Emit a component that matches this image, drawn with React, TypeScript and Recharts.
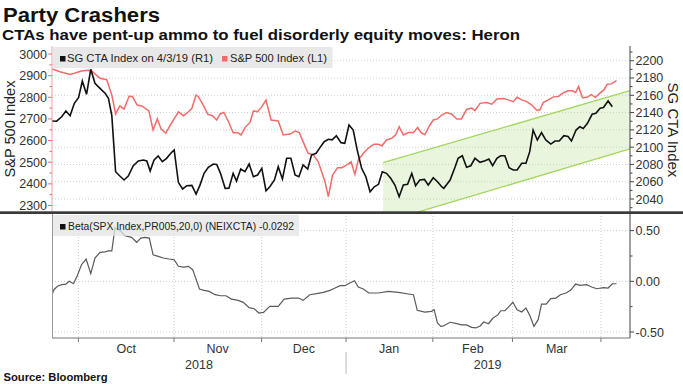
import React from 'react';
import { ComposedChart, Line, Area, XAxis, YAxis, CartesianGrid } from 'recharts';

// x values are trading-day indices counted from the first observation (Sep 2018)
const monthStarts = [6.27, 28.96, 49.75, 69.8, 90.4, 109.3, 130.3];
const monthMids = [17.6, 39.3, 59.8, 80.0, 99.9, 119.8];
const monthLabels = ['Oct', 'Nov', 'Dec', 'Jan', 'Feb', 'Mar'];
const yearMids = [34.9, 103.4];
const yearLabels = ['2018', '2019'];
const yearBreak = 69.8;
const xDomain = [0, 137.2];

const spxTicks = [2300, 2350, 2400, 2450, 2500, 2550, 2600, 2650, 2700, 2750, 2800, 2850, 2900, 2950, 3000];
const ctaTicks = [2030, 2040, 2050, 2060, 2070, 2080, 2090, 2100, 2110, 2120, 2130, 2140, 2150, 2160, 2170, 2180, 2190, 2200, 2210];
const ctaGrid = [2040, 2060, 2080, 2100, 2120, 2140, 2160, 2180, 2200];
const betaTicks = [-0.5, -0.25, 0, 0.25, 0.5];
const betaGrid = [-0.5, 0, 0.5];

// S&P 500 Index (left axis)
const spxSeries: [number, number][] = [
  [0, 2931], [1.9, 2918], [4.3, 2906], [5.5, 2912], [7.0, 2921], [8.6, 2925], [9.4, 2922], [11.4, 2888],
  [13.0, 2881], [14.2, 2810], [15.1, 2723], [16.1, 2760], [17.1, 2746], [18.3, 2805], [19.1, 2804],
  [20.2, 2764], [21.3, 2760], [23.0, 2737], [24.0, 2649], [25.0, 2700], [25.9, 2653], [27.0, 2635],
  [28.2, 2675], [30.0, 2733], [31.2, 2715], [32.4, 2733], [33.2, 2749], [34.2, 2810], [34.7, 2804],
  [35.9, 2764], [37.0, 2721], [38.1, 2715], [39.1, 2695], [39.9, 2723], [40.8, 2730], [41.9, 2687],
  [43.0, 2636], [44.0, 2637], [44.9, 2626], [45.8, 2660], [47.0, 2684], [47.8, 2737], [48.8, 2733],
  [49.8, 2757], [50.8, 2787], [52.0, 2695], [53.7, 2691], [54.9, 2626], [56.5, 2630], [57.7, 2644],
  [58.7, 2637], [59.6, 2595], [60.8, 2541], [62.0, 2535], [63.2, 2502], [64.8, 2410], [65.6, 2341],
  [66.6, 2441], [67.8, 2475], [68.8, 2475], [69.9, 2487], [71.0, 2502], [71.9, 2444], [72.7, 2510],
  [73.9, 2541], [75.2, 2567], [76.4, 2583], [77.5, 2583], [78.3, 2576], [79.4, 2603], [80.6, 2610],
  [81.6, 2627], [82.4, 2664], [83.4, 2626], [84.6, 2637], [85.8, 2637], [86.8, 2660], [87.6, 2637],
  [88.5, 2627], [89.7, 2672], [90.5, 2695], [91.5, 2700], [92.5, 2718], [93.7, 2730], [94.9, 2722],
  [96.1, 2700], [97.2, 2700], [98.4, 2744], [99.6, 2750], [100.4, 2738], [101.6, 2772], [103.2, 2776],
  [104.4, 2768], [105.6, 2792], [107.1, 2794], [108.3, 2788], [109.5, 2780], [110.4, 2800], [111.5, 2788],
  [112.7, 2780], [113.9, 2764], [115.0, 2741], [115.8, 2741], [116.6, 2776], [117.8, 2788], [119.0, 2802],
  [120.2, 2804], [121.4, 2821], [122.5, 2830], [123.5, 2830], [124.3, 2822], [125.0, 2850], [125.9, 2798],
  [127.0, 2800], [128.0, 2812], [129.0, 2800], [130.0, 2818], [131.0, 2834], [131.8, 2860], [132.8, 2862],
  [134.0, 2877],
];

// SG CTA Index (right axis)
const ctaSeries: [number, number][] = [
  [0, 2130.2], [1.1, 2130], [2.3, 2135.2], [3.3, 2141.8], [4.3, 2136.4], [5.3, 2150.7], [6.3, 2157.2],
  [7.2, 2176.5], [8.2, 2161.1], [9.2, 2190], [10.2, 2173.9], [11.4, 2168], [12.6, 2162.3], [13.4, 2156.5],
  [14.2, 2136.4], [15.1, 2071.6], [16.1, 2066.6], [17.1, 2062], [18.1, 2066.6], [19.3, 2078.5], [20.5, 2084],
  [21.7, 2085.1], [22.5, 2084], [23.3, 2072.4], [24.2, 2085], [25.2, 2089.8], [26.2, 2083.2], [27.2, 2087.1],
  [28.2, 2092.9], [29.0, 2096.7], [30.0, 2059.3], [31.0, 2051.6], [32.0, 2055.4], [33.2, 2055.8],
  [34.2, 2045.8], [35.1, 2055.8], [36.1, 2069.7], [37.1, 2076.7], [38.3, 2080.5], [39.1, 2080],
  [40.0, 2069.7], [41.1, 2052.4], [42.0, 2052.6], [43.0, 2069.7], [43.8, 2060.8], [44.8, 2074.7],
  [45.8, 2071.6], [46.8, 2080.5], [47.8, 2065.8], [48.8, 2067.8], [49.8, 2075.5], [50.8, 2049.6],
  [51.7, 2054.2], [52.8, 2062], [53.7, 2077.4], [54.7, 2063.2], [55.7, 2087.1], [56.7, 2087.1],
  [57.7, 2067.8], [58.6, 2065.8], [59.6, 2079.4], [60.7, 2074.7], [61.6, 2090.9], [62.7, 2092.9],
  [63.6, 2099.4], [64.6, 2106.3], [65.6, 2109.1], [66.5, 2108.4], [67.5, 2113.2], [68.6, 2105.2],
  [69.5, 2104.4], [70.5, 2125.6], [71.5, 2119.8], [72.5, 2095.5], [73.5, 2075.5], [74.5, 2065.8],
  [75.5, 2048.4], [76.5, 2054.2], [77.5, 2057], [78.4, 2071.6], [79.4, 2069.7], [80.4, 2064],
  [81.4, 2056.2], [82.4, 2042.7], [83.4, 2056.2], [84.4, 2057], [85.4, 2069.7], [86.3, 2055.4],
  [87.3, 2062], [88.4, 2062.7], [89.3, 2056.2], [90.5, 2064.7], [91.5, 2060], [92.5, 2054.2],
  [93.0, 2052.4], [94.5, 2062], [95.7, 2077.4], [96.4, 2087.1], [97.4, 2090.1], [98.4, 2076.7],
  [99.4, 2078.5], [100.4, 2087.1], [101.6, 2082.5], [102.8, 2084.4], [103.7, 2086.3], [104.6, 2078.5],
  [105.6, 2087.1], [106.5, 2090.1], [107.5, 2090.1], [108.5, 2076.2], [109.5, 2073.6], [110.4, 2073.6],
  [111.5, 2081.3], [112.5, 2081.3], [113.4, 2094.8], [114.2, 2119.8], [115.2, 2108.3], [116.2, 2116.7],
  [117.2, 2108.3], [118.4, 2103.6], [119.4, 2107.1], [120.4, 2107.1], [121.5, 2113.2], [122.5, 2112.3],
  [123.3, 2107.1], [124.4, 2119.8], [125.3, 2123.7], [126.1, 2121.7], [127.1, 2127.6], [128.2, 2138],
  [129.1, 2139.2], [130.1, 2145], [130.9, 2145.8], [132.0, 2153.4], [133.0, 2146.8],
];

// Trend channel drawn on the SG CTA Index
const channelDays = [78.6, 137.2];
const channelLower = [2013, 2098];
const channelUpper = [2082, 2165.5];

// Beta(SPX Index, PR005, 20, 0) (NEIXCTA)
const betaSeries: [number, number][] = [
  [0, -0.13], [0.5, -0.08], [1.3, -0.049], [2.3, -0.033], [3.3, -0.027], [4.1, 0.0], [5.1, -0.024],
  [6.0, 0.055], [7.0, 0.164], [8.1, 0.22], [9.2, 0.075], [10.2, 0.23], [11.4, 0.286], [12.6, 0.29],
  [13.4, 0.3], [14.2, 0.3], [14.95, 0.526], [16.1, 0.503], [17.3, 0.45], [18.9, 0.434], [20.1, 0.385],
  [21.1, 0.427], [22.1, 0.434], [23.1, 0.427], [24.0, 0.262], [25.2, 0.246], [26.4, 0.23], [27.8, 0.22],
  [29.0, 0.213], [30.0, 0.148], [31.2, 0.14], [32.4, 0.148], [33.4, 0.115], [35.0, -0.076], [36.1, -0.089],
  [37.3, -0.099], [38.7, -0.132], [40.0, -0.142], [41.3, -0.142], [42.6, -0.175], [44.2, -0.188],
  [45.4, -0.207], [46.8, -0.26], [48.0, -0.27], [49.1, -0.313], [50.2, -0.306], [51.7, -0.247],
  [53.7, -0.247], [55.1, -0.175], [56.9, -0.165], [58.5, -0.165], [59.6, -0.188], [61.2, -0.132],
  [62.8, -0.122], [64.4, -0.109], [66.0, -0.089], [67.2, -0.066], [68.4, -0.043], [69.5, -0.043],
  [70.7, -0.017], [71.8, 0.006], [72.7, -0.056], [73.9, -0.076], [75.2, -0.115], [77.5, -0.115],
  [79.8, -0.099], [82.2, -0.109], [84.6, -0.125], [85.8, -0.132], [86.7, -0.286], [88.5, -0.303],
  [90.1, -0.296], [90.7, -0.28], [91.5, -0.411], [92.3, -0.444], [92.9, -0.44], [94.5, -0.404],
  [96.1, -0.418], [97.2, -0.43], [98.4, -0.43], [99.6, -0.454], [100.6, -0.46], [101.6, -0.44],
  [102.5, -0.401], [103.6, -0.418], [104.7, -0.362], [105.9, -0.329], [106.5, -0.29], [107.5, -0.29],
  [108.5, -0.247], [109.4, -0.207], [110.4, -0.28], [111.5, -0.303], [112.5, -0.263], [113.5, -0.345],
  [114.4, -0.444], [115.4, -0.378], [116.2, -0.224], [117.3, -0.224], [118.4, -0.171], [119.6, -0.165],
  [120.7, -0.132], [122.0, -0.115], [123.1, -0.089], [124.3, -0.027], [125.3, -0.04], [126.9, -0.033],
  [128.1, -0.056], [129.3, -0.073], [130.9, -0.063], [132.0, -0.066], [133.0, -0.024], [134.0, -0.024],
];

const spxData = spxSeries.map(([d, v]) => ({ d, spx: v }));
const ctaData = ctaSeries.map(([d, v]) => ({ d, cta: v }));
const betaData = betaSeries.map(([d, v]) => ({ d, beta: v }));
const channelData = channelDays.map((d, i) => ({ d, band: [channelLower[i], channelUpper[i]] }));
const bottomXTicks = [...monthStarts, ...monthMids, ...yearMids];

const FONT = '"Liberation Sans", Arial, Helvetica, sans-serif';
const TICK_COLOR = '#333';

function SpxTick(props: any) {
  const { x, y, payload } = props;
  const v = payload.value;
  const major = v % 100 === 0;
  return (
    <g>
      <line x1={x - (major ? 4 : 2.5)} x2={x} y1={y} y2={y} stroke="#ee6b6b" strokeWidth={1} />
      {major && (
        <text x={x - 5} y={y} dy="0.36em" textAnchor="end" fontSize={12.5} fill={TICK_COLOR} fontFamily={FONT}>
          {v}
        </text>
      )}
    </g>
  );
}

function CtaTick(props: any) {
  const { x, y, payload } = props;
  const v = payload.value;
  const major = v % 20 === 0;
  return (
    <g>
      <line x1={x} x2={x + (major ? 4 : 2.5)} y1={y} y2={y} stroke="#444" strokeWidth={1} />
      {major && (
        <text x={x + 5.5} y={y} dy="0.36em" textAnchor="start" fontSize={12.5} fill={TICK_COLOR} fontFamily={FONT}>
          {v}
        </text>
      )}
    </g>
  );
}

function BetaTick(props: any) {
  const { x, y, payload } = props;
  const v = payload.value;
  const major = Math.abs(v * 2 - Math.round(v * 2)) < 1e-9;
  return (
    <g>
      <line x1={x} x2={x + (major ? 4 : 2.5)} y1={y} y2={y} stroke="#444" strokeWidth={1} />
      {major && (
        <text x={x + 5.5} y={y} dy="0.36em" textAnchor="start" fontSize={12.5} fill={TICK_COLOR} fontFamily={FONT}>
          {v.toFixed(2)}
        </text>
      )}
    </g>
  );
}

function DateTick(props: any) {
  const { x, y, payload } = props;
  const v = payload.value;
  const si = monthStarts.indexOf(v);
  if (si >= 0) {
    return (
      <g>
        <line x1={x} x2={x} y1={y} y2={y + 4} stroke="#777" strokeWidth={1} />
        {v === yearBreak && <line x1={x} x2={x} y1={y + 14} y2={y + 36} stroke="#bbb" strokeWidth={1} />}
      </g>
    );
  }
  const mi = monthMids.indexOf(v);
  if (mi >= 0) {
    return (
      <text x={x} y={y + 10} dy="0.36em" textAnchor="middle" fontSize={12.5} fill={TICK_COLOR} fontFamily={FONT}>
        {monthLabels[mi]}
      </text>
    );
  }
  const yi = yearMids.indexOf(v);
  if (yi >= 0) {
    return (
      <text x={x} y={y + 26} dy="0.36em" textAnchor="middle" fontSize={12.5} fill={TICK_COLOR} fontFamily={FONT}>
        {yearLabels[yi]}
      </text>
    );
  }
  return <g />;
}

export default function App() {
  return (
    <div
      style={{
        position: 'absolute',
        left: 0,
        top: 0,
        width: 683,
        height: 384,
        background: '#fff',
        overflow: 'hidden',
        fontFamily: FONT,
      }}
    >
      <div style={{ position: 'absolute', left: 0, top: 0 }}>
        <ComposedChart width={683} height={212} margin={{ top: 46, right: 8, bottom: 0, left: 8 }}>
          <CartesianGrid
            yAxisId="r"
            horizontalValues={ctaGrid}
            verticalValues={monthStarts}
            stroke="#cfcfcf"
            strokeDasharray="1 2"
          />
          <XAxis
            type="number"
            dataKey="d"
            domain={xDomain}
            allowDataOverflow
            ticks={monthStarts}
            interval={0}
            tick={false}
            tickLine={false}
            axisLine={false}
            height={0}
          />
          <YAxis
            yAxisId="l"
            orientation="left"
            width={44}
            domain={[2270, 3037]}
            allowDataOverflow
            ticks={spxTicks}
            interval={0}
            tick={SpxTick}
            tickLine={false}
            tickSize={0}
            tickMargin={0}
            axisLine={{ stroke: '#f3a0a0' }}
          />
          <YAxis
            yAxisId="r"
            orientation="right"
            width={45}
            domain={[2025, 2217]}
            allowDataOverflow
            ticks={ctaTicks}
            interval={0}
            tick={CtaTick}
            tickLine={false}
            tickSize={0}
            tickMargin={0}
            axisLine={{ stroke: '#444' }}
          />
          <Area
            yAxisId="r"
            data={channelData}
            dataKey="band"
            type="linear"
            stroke="#a3d65c"
            strokeWidth={1.3}
            fill="#b7df8a"
            fillOpacity={0.3}
            isAnimationActive={false}
          />
          <Line
            yAxisId="l"
            data={spxData}
            dataKey="spx"
            type="linear"
            stroke="#f26b6b"
            strokeWidth={1.5}
            dot={false}
            isAnimationActive={false}
          />
          <Line
            yAxisId="r"
            data={ctaData}
            dataKey="cta"
            type="linear"
            stroke="#111"
            strokeWidth={1.6}
            dot={false}
            isAnimationActive={false}
          />
        </ComposedChart>
      </div>

      <div style={{ position: 'absolute', left: 0, top: 0 }}>
        <ComposedChart width={683} height={384} margin={{ top: 213, right: 8, bottom: 0, left: 52 }}>
          <CartesianGrid
            yAxisId="b"
            horizontalValues={betaGrid}
            verticalValues={monthStarts}
            stroke="#cfcfcf"
            strokeDasharray="1 2"
          />
          <XAxis
            type="number"
            dataKey="d"
            domain={xDomain}
            allowDataOverflow
            ticks={bottomXTicks}
            interval={0}
            tick={DateTick}
            tickLine={false}
            tickSize={0}
            tickMargin={0}
            height={46}
            axisLine={{ stroke: '#777' }}
          />
          <YAxis
            yAxisId="b"
            orientation="right"
            width={45}
            domain={[-0.559, 0.674]}
            allowDataOverflow
            ticks={betaTicks}
            interval={0}
            tick={BetaTick}
            tickLine={false}
            tickSize={0}
            tickMargin={0}
            axisLine={{ stroke: '#444' }}
          />
          <Line
            yAxisId="b"
            data={betaData}
            dataKey="beta"
            type="linear"
            stroke="#5a5a5a"
            strokeWidth={1.2}
            dot={false}
            isAnimationActive={false}
          />
        </ComposedChart>
      </div>

      <svg width={683} height={384} style={{ position: 'absolute', left: 0, top: 0, pointerEvents: 'none' }}>
        <text x={3} y={22} fontSize={20} fontWeight="bold" fill="#111" fontFamily={FONT} textLength={157} lengthAdjust="spacingAndGlyphs">
          Party Crashers
        </text>
        <text x={2} y={39.5} fontSize={14} fontWeight="bold" fill="#111" fontFamily={FONT} textLength={518} lengthAdjust="spacingAndGlyphs">
          CTAs have pent-up ammo to fuel disorderly equity moves: Heron
        </text>

        <rect x={52.5} y={47} width={280} height={21} fill="#e4e4e4" fillOpacity={0.85} />
        <rect x={60} y={56} width={5.5} height={5.5} fill="#111" />
        <text x={67} y={62} fontSize={11} fill="#222" fontFamily={FONT} textLength={146} lengthAdjust="spacingAndGlyphs">
          SG CTA Index  on 4/3/19 (R1)
        </text>
        <rect x={222} y={56} width={5.5} height={5.5} fill="#f26b6b" />
        <text x={230} y={62} fontSize={11} fill="#222" fontFamily={FONT} textLength={97} lengthAdjust="spacingAndGlyphs">
          S&amp;P 500 Index  (L1)
        </text>

        <rect x={0} y={211.3} width={683} height={2.7} fill="#3a3a3a" />

        <rect x={52.5} y={215} width={246.5} height={21} fill="#e4e4e4" fillOpacity={0.75} />
        <rect x={60} y={224} width={5.5} height={5.5} fill="#111" />
        <text x={68} y={230} fontSize={11} fill="#222" fontFamily={FONT} textLength={226} lengthAdjust="spacingAndGlyphs">
          Beta(SPX Index,PR005,20,0) (NEIXCTA) -0.0292
        </text>
        <line x1={52.5} x2={52.5} y1={214} y2={338} stroke="#999" strokeWidth={1} />

        <text
          x={15}
          y={129}
          transform="rotate(-90 15 129)"
          textAnchor="middle"
          fontSize={15}
          fill="#222"
          fontFamily={FONT}
          textLength={97}
          lengthAdjust="spacingAndGlyphs"
        >
          S&amp;P 500 Index
        </text>
        <text
          x={668}
          y={130}
          transform="rotate(90 668 130)"
          textAnchor="middle"
          fontSize={15}
          fill="#222"
          fontFamily={FONT}
        >
          SG CTA Index
        </text>

        <text x={3.5} y={381} fontSize={11} fontWeight="bold" fill="#111" fontFamily={FONT} textLength={104} lengthAdjust="spacingAndGlyphs">
          Source:  Bloomberg
        </text>
      </svg>
    </div>
  );
}
